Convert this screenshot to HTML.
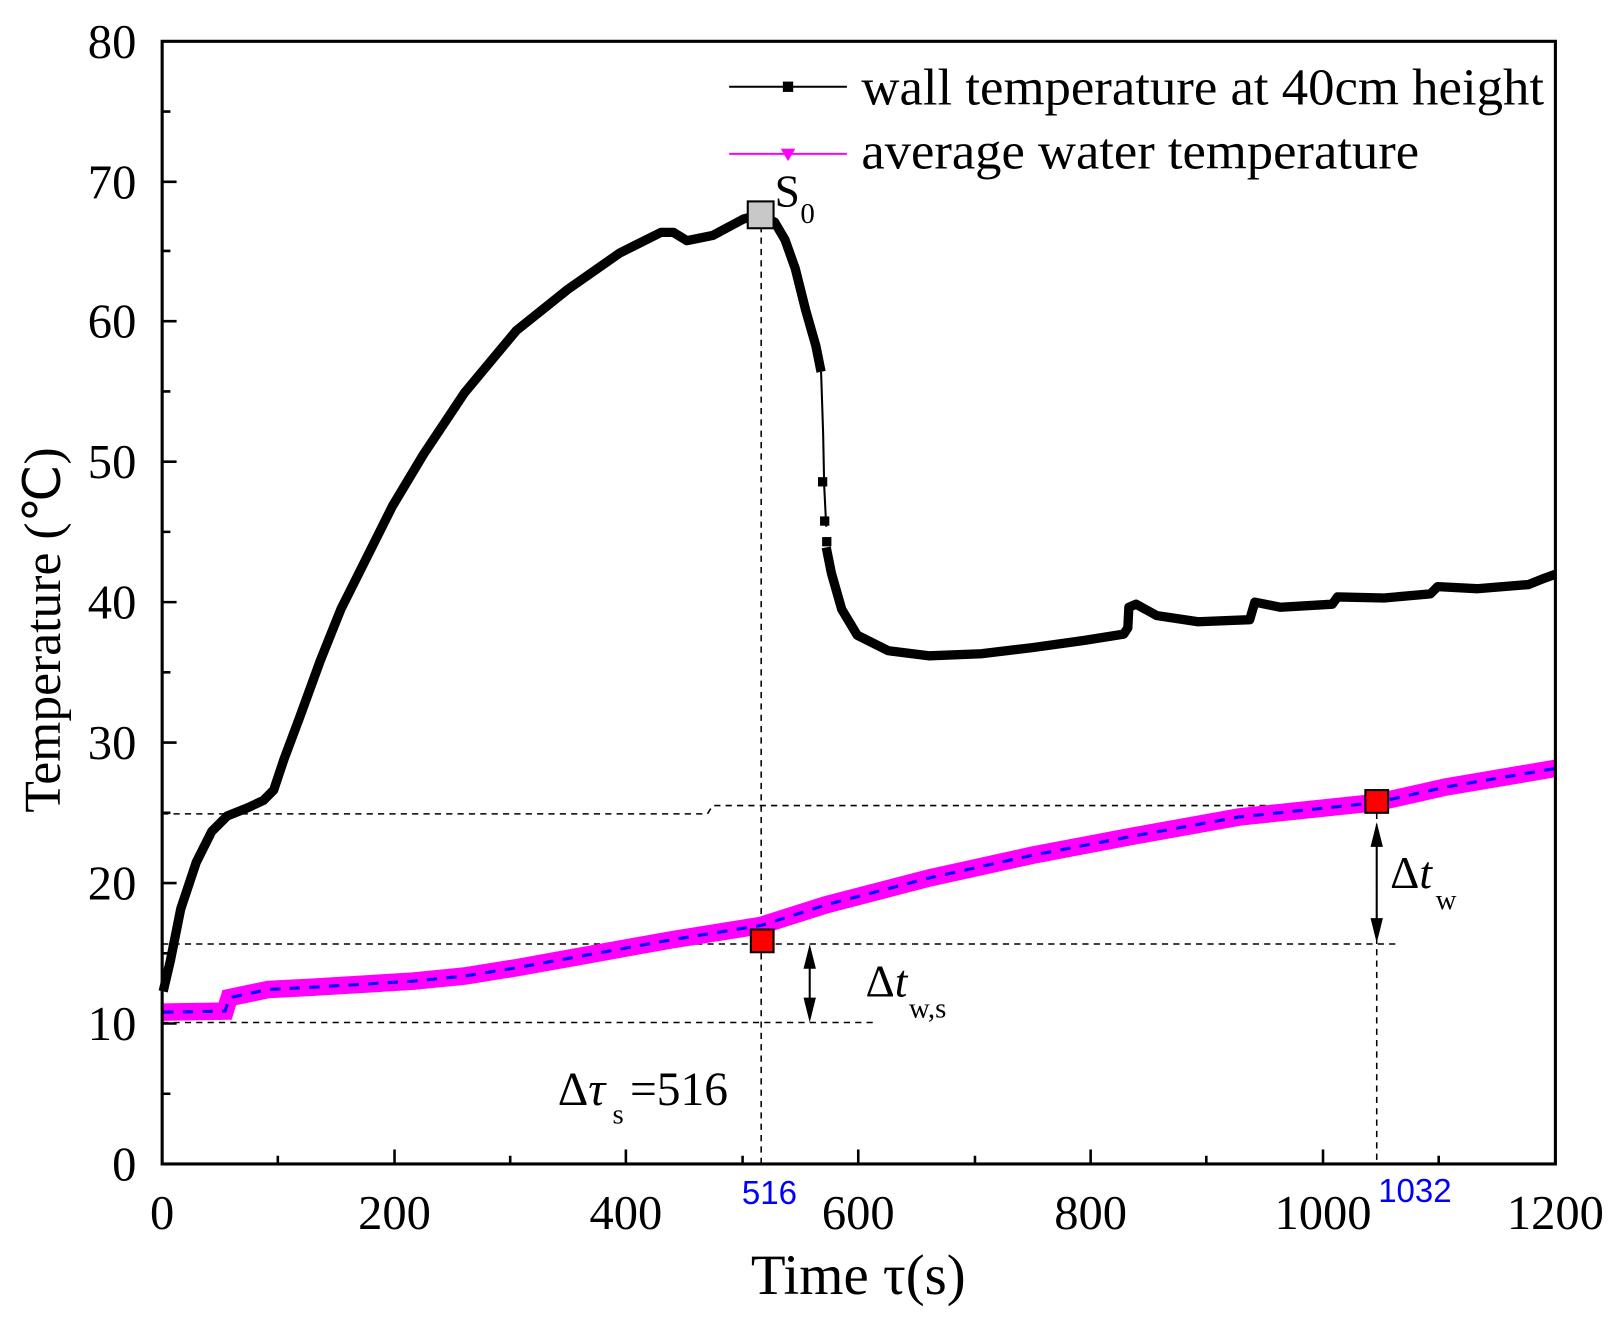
<!DOCTYPE html>
<html><head><meta charset="utf-8"><style>body{margin:0;background:#fff}</style></head><body>
<svg width="1618" height="1323" xmlns="http://www.w3.org/2000/svg" font-family="Liberation Serif, serif">
<rect width="1618" height="1323" fill="#fff"/>
<g transform="scale(1.0328)">
<g stroke="#000" stroke-width="1.5" stroke-dasharray="6,5" fill="none">
<path d="M157 788 H685 L690 780 H1333"/>
<path d="M157 914 H1352"/>
<path d="M157 990 H850"/>
<path d="M737 208 V1127"/>
<path d="M1333 776 V1127"/>
</g>
<polyline fill="none" stroke="#ff00ff" stroke-width="17" points="158,980 218,979 222,966 260,958 300,956 400,950 450,945 500,937 550,928 600,919 650,910 737,896 800,876 900,850 1000,828 1100,809 1200,791 1333,777 1400,762 1506,744"/>
<polyline fill="none" stroke="#0000ff" stroke-width="3" stroke-dasharray="10,9" points="158,980 218,979 222,966 260,958 300,956 400,950 450,945 500,937 550,928 600,919 650,910 737,896 800,876 900,850 1000,828 1100,809 1200,791 1333,777 1400,762 1506,744"/>
<polyline fill="none" stroke="#000" stroke-width="9" stroke-linejoin="round" points="158,960 165,930 175,880 190,835 205,805 220,790 240,782 255,775 265,765 275,735 290,695 310,640 330,590 350,550 380,490 410,440 450,380 500,320 550,280 600,245 640,225 652,225 665,233 690,228 720,212 735,208 750,215 760,232 770,260 780,300 790,335 795,360"/>
<polyline fill="none" stroke="#000" stroke-width="2" points="795,360 797,420 798,470 800,510"/>
<g fill="#000"><rect x="792" y="462" width="9" height="9"/><rect x="794" y="500" width="9" height="9"/><rect x="796" y="520" width="9" height="9"/></g>
<polyline fill="none" stroke="#000" stroke-width="9" stroke-linejoin="round" points="800,530 805,555 815,590 830,615 860,630 900,635 950,633 1000,627 1050,620 1088,614 1092,608 1093,588 1100,585 1120,596 1160,602 1210,600 1215,583 1240,588 1290,585 1295,578 1340,579 1385,575 1392,568 1430,570 1480,566 1495,560 1506,556"/>
<rect x="724" y="195" width="25" height="26" fill="#c8c8c8" stroke="#000" stroke-width="2"/>
<rect x="727" y="900" width="22" height="22" fill="#f00" stroke="#000" stroke-width="2"/>
<rect x="1322" y="765" width="22" height="22" fill="#f00" stroke="#000" stroke-width="2"/>
<g stroke="#000" stroke-width="2"><path d="M784 920 V984"/><path d="M1333 800 V906"/></g>
<g fill="#000"><path d="M784 914 l-6 24 h12z"/><path d="M784 990 l-6 -24 h12z"/><path d="M1333 796 l-6 24 h12z"/><path d="M1333 913 l-6 -24 h12z"/></g>
<text x="750" y="200" font-size="44">S</text><text x="775" y="216" font-size="28">0</text>
<text x="838" y="965" font-size="44">Δ<tspan font-style="italic">t</tspan></text><text x="880" y="985" font-size="28">w,s</text>
<text x="1346" y="860" font-size="44">Δ<tspan font-style="italic">t</tspan></text><text x="1390" y="880" font-size="28">w</text>
<text x="540" y="1070" font-size="46">Δ<tspan font-style="italic">τ</tspan></text><text x="593" y="1088" font-size="28">s</text><text x="610" y="1070" font-size="46">=516</text>
<text x="745" y="1166" font-size="32" fill="#0000ff" font-family="Liberation Sans, sans-serif" text-anchor="middle">516</text>
<text x="1370" y="1164" font-size="32" fill="#0000ff" font-family="Liberation Sans, sans-serif" text-anchor="middle">1032</text>
<g stroke="#000" stroke-width="2"><path d="M706 84 H820"/><path d="M706 149 H820" stroke="#ff00ff"/></g>
<rect x="758" y="79" width="10" height="10" fill="#000"/>
<path d="M756 144 h14 l-7 12z" fill="#ff00ff"/>
<text x="834" y="101" font-size="50" textLength="661" lengthAdjust="spacingAndGlyphs">wall temperature at 40cm height</text>
<text x="834" y="163" font-size="50" textLength="540" lengthAdjust="spacingAndGlyphs">average water temperature</text>
<rect x="157" y="40" width="1349" height="1087" fill="none" stroke="#000" stroke-width="3"/>
<g stroke="#000" stroke-width="2.5">
<path d="M157 991 h14 M157 855 h14 M157 719 h14 M157 583 h14 M157 447 h14 M157 311 h14 M157 176 h14"/>
<path d="M157 1059 h8 M157 923 h8 M157 787 h8 M157 651 h8 M157 515 h8 M157 379 h8 M157 243 h8 M157 108 h8"/>
<path d="M382 1127 v-14 M606 1127 v-14 M831 1127 v-14 M1056 1127 v-14 M1281 1127 v-14"/>
<path d="M269 1127 v-8 M494 1127 v-8 M719 1127 v-8 M944 1127 v-8 M1168 1127 v-8 M1393 1127 v-8"/>
</g>
<g font-size="47" text-anchor="end">
<text x="132" y="1143">0</text><text x="132" y="1007">10</text><text x="132" y="871">20</text><text x="132" y="735">30</text><text x="132" y="599">40</text><text x="132" y="463">50</text><text x="132" y="327">60</text><text x="132" y="192">70</text><text x="132" y="56">80</text>
</g>
<g font-size="47" text-anchor="middle">
<text x="157" y="1190">0</text><text x="382" y="1190">200</text><text x="606" y="1190">400</text><text x="831" y="1190">600</text><text x="1056" y="1190">800</text><text x="1281" y="1190">1000</text><text x="1506" y="1190">1200</text>
</g>
<text x="831" y="1253" font-size="55" text-anchor="middle">Time τ(s)</text>
<text transform="translate(58,610) rotate(-90)" font-size="50" text-anchor="middle">Temperature (℃)</text>
</g>
</svg>
</body></html>
